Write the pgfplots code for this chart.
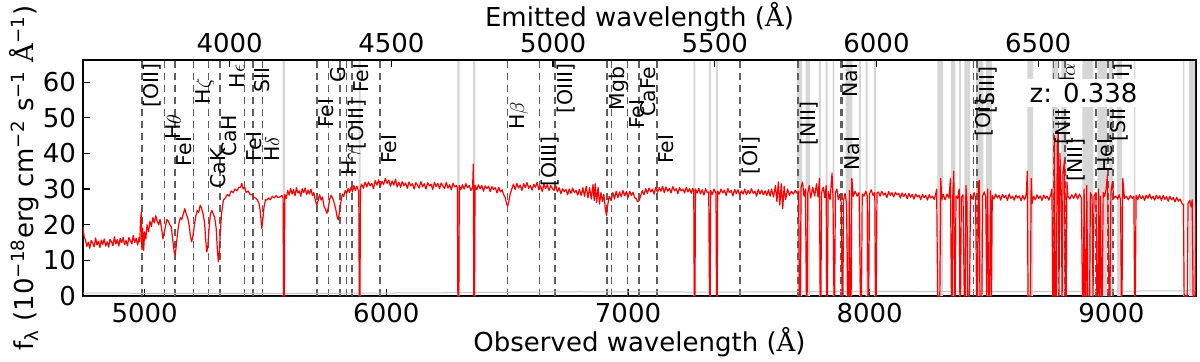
\documentclass[border=0pt]{standalone}
\usepackage{fontspec}
\setmainfont{DejaVu Sans}
\newfontfamily\serifA{DejaVu Serif}
\usepackage{pgfplots}
\pgfplotsset{compat=1.18}
\usepackage{pgfplotstable}
\definecolor{bandgray}{RGB}{214,214,214}
\definecolor{dashgray}{RGB}{95,95,95}
\newcommand{\bigf}{\fontsize{13bp}{15bp}\selectfont}
\newcommand{\lfont}{\fontsize{10.2bp}{11bp}\selectfont}
\newcommand{\AAng}{{\serifA Å}}

\pgfplotstableread{
x y
4745 19.5
4748 17.5
4751 16.2
4755 15.9
4761 13.9
4767 15.1
4773 13.4
4779 15.6
4785 14.9
4791 13.8
4797 16.3
4803 14.3
4809 15.4
4815 13.6
4821 15.7
4827 14.5
4833 16.0
4839 14.0
4845 15.2
4851 13.7
4857 15.9
4863 15.2
4869 14.1
4875 16.6
4881 14.6
4887 15.8
4893 14.0
4899 16.2
4905 14.9
4911 16.4
4917 14.4
4923 15.6
4929 14.1
4935 16.4
4941 15.6
4947 14.6
4953 17.0
4959 15.0
4965 16.2
4971 14.3
4977 16.4
4980 15.2
4983 21
4986 23.5
4989 13
4992 19
4996 12.8
5000 18
5005 16
5010 20
5016 18
5022 21
5028 19.5
5034 22
5040 20.5
5046 22.5
5052 21
5058 20
5064 21.5
5070 19
5076 16
5080 17.5
5086 19.5
5092 21.5
5098 21
5104 20
5110 19.5
5116 16
5122 12.5
5126 11.5
5130 13.5
5136 17.5
5142 20.5
5148 22
5154 21.5
5160 23
5166 24.5
5172 23
5178 22
5184 20
5190 16.5
5195 15.2
5200 17
5206 20
5212 22.5
5218 24
5224 23.5
5230 25.5
5236 24.5
5242 23
5248 20.5
5253 15.5
5257 12.4
5261 13.5
5266 18.5
5272 23
5278 24
5284 23
5290 22
5296 19
5301 13
5305 9.6
5308 11
5312 16.5
5318 23
5326 26.9
5334 27.5
5342 28.5
5350 28
5358 29.5
5366 29
5374 30
5382 29.5
5390 30.5
5397 30.5
5402 31.6
5408 30
5414 30.5
5420 29
5428 29.5
5436 28.5
5444 28.5
5450 27.8
5458 27.5
5466 27
5473 26
5478 24
5482 21
5485 19
5489 21.5
5494 25
5500 27
5505 26.9
5512 27.5
5520 27
5528 28
5536 27.5
5544 28.2
5552 27.6
5560 27.8
5568 28.2
5573 27.5
5575 0
5578 0
5580 28.5
5586 27.4
5592 29.6
5598 28.3
5604 30.2
5610 28.6
5616 29.8
5622 28.1
5628 30.4
5634 28.9
5640 29.5
5646 28.0
5652 30.1
5658 29.0
5664 30.3
5670 28.4
5676 29.7
5682 28.6
5688 30.0
5694 28.2
5700 29.0
5706 27.0
5712 25.5
5718 26.8
5724 28.4
5730 26.9
5736 27.8
5742 25.2
5748 24.4
5754 23.2
5760 24.8
5766 27.2
5772 28.3
5778 27.4
5784 26.2
5790 24.6
5796 22.4
5801 21.3
5806 23.5
5812 26.4
5818 28.6
5824 27.9
5830 29.6
5836 28.8
5842 30.2
5848 29.0
5854 30.6
5860 29.2
5866 31.0
5872 29.6
5878 30.8
5884 29.7
5886 29.5
5888 0
5891 0
5893 30.5
5898 31.4
5905 30.2
5912 31.9
5919 30.6
5926 32.0
5933 30.9
5940 31.6
5947 30.1
5954 32.4
5961 31.1
5968 32.6
5975 30.7
5982 32.2
5989 31.3
5996 33.0
6003 31.6
6010 32.5
6017 30.8
6024 32.3
6031 31.1
6038 32.8
6045 30.6
6052 31.9
6059 30.5
6066 32.1
6073 31.0
6080 31.7
6087 30.2
6094 32.0
6101 30.9
6108 31.5
6115 30.0
6122 31.8
6129 31.1
6136 30.3
6143 32.1
6150 30.6
6157 31.5
6164 30.0
6171 31.8
6178 30.9
6185 31.4
6192 29.9
6199 31.9
6206 30.7
6213 31.6
6220 30.1
6227 31.7
6234 30.8
6241 30.2
6248 31.9
6255 30.3
6262 31.2
6269 29.8
6276 31.6
6283 30.6
6290 31.0
6294 30.2
6296 0
6300 0
6302 31
6308 29.8
6315 31.2
6322 30.0
6329 31.5
6336 30.4
6343 31.0
6350 29.6
6357 30.6
6360 37
6362 0
6365 0
6367 31
6374 29.8
6381 31.2
6388 30.1
6395 31.0
6402 29.4
6409 30.9
6416 30.2
6423 30.8
6430 29.3
6437 30.7
6444 29.9
6451 30.4
6458 28.9
6465 30.5
6472 29.2
6479 29.8
6486 28.4
6492 27.6
6498 25.8
6502 25.2
6507 26.5
6512 28.5
6519 30.0
6526 31.4
6533 29.9
6540 31.6
6547 30.3
6554 31.1
6561 29.6
6568 31.5
6575 30.4
6582 31.8
6589 30.2
6596 31.0
6603 29.7
6610 31.3
6617 30.5
6624 31.9
6631 29.8
6638 30.9
6645 29.3
6652 31.4
6659 30.1
6666 31.2
6673 29.6
6680 31.0
6687 30.2
6694 29.6
6701 31.0
6708 29.2
6715 30.4
6722 28.7
6729 30.1
6736 29.3
6743 29.9
6750 28.4
6757 30.0
6764 28.8
6771 30.3
6778 29.0
6785 29.6
6792 28.3
6799 29.9
6806 28.2
6813 30.4
6820 27.9
6827 30.8
6834 27.5
6841 30.4
6848 27.2
6855 31.3
6860 26.8
6864 31.5
6870 26.2
6876 30.5
6882 25.8
6888 29
6894 26.5
6900 28.5
6906 24.5
6911 22.5
6916 25.5
6922 28
6930 26.8
6937 29.0
6944 27.2
6951 29.4
6958 27.6
6965 29.2
6972 27.8
6979 29.6
6986 28.1
6993 29.3
7000 27.6
7007 29.4
7014 28.2
7021 29.1
7028 27.5
7034 27.4
7040 26.4
7046 26.8
7052 28
7059 29.6
7066 28.4
7073 30.1
7080 28.8
7087 30.3
7094 29.2
7101 30.0
7108 28.6
7115 30.5
7122 29.1
7129 30.4
7136 29.4
7143 30.8
7150 29.0
7157 30.6
7164 29.4
7171 30.2
7178 28.9
7185 30.7
7192 29.5
7199 30.1
7206 28.7
7213 30.4
7220 29.5
7227 30.0
7234 28.9
7241 30.5
7248 29.2
7255 30.1
7262 28.8
7268 30.2
7272 29.5
7274 0
7277 0
7279 30
7286 28.9
7293 30.2
7300 28.6
7307 29.8
7314 28.3
7321 30.1
7328 29.0
7334 29.2
7337 0
7340 0
7342 29.6
7349 28.5
7356 30.0
7362 29.0
7364 29.2
7366 0
7369 0
7371 29.4
7378 28.6
7385 30.0
7392 28.9
7399 29.7
7406 28.2
7413 30.1
7420 29.0
7427 29.6
7434 28.1
7441 29.9
7448 28.7
7455 29.8
7462 28.3
7469 29.5
7476 28.6
7483 30.0
7490 28.4
7497 29.6
7504 28.7
7511 30.1
7518 28.8
7525 29.4
7532 28.0
7539 29.9
7546 28.6
7553 29.7
7560 28.4
7567 29.5
7574 28.2
7581 29.8
7588 28.0
7594 30
7602 27.8
7610 31
7616 26.5
7622 32
7628 25.5
7634 31.5
7640 24.5
7646 30.8
7652 27
7660 30
7668 28.2
7676 29.4
7684 28.6
7692 29.6
7700 28.8
7706 29.5
7709 0
7713 0
7716 30.5
7722 32
7728 28
7734 30
7738 0
7741 0
7744 29
7750 31
7756 27.5
7764 30.5
7772 28
7780 31.5
7786 27.8
7792 33
7795 0
7798 0
7801 29
7808 30.5
7814 27.6
7820 31
7822 0
7825 0
7828 29.4
7836 27
7844 34.5
7848 28
7852 0
7855 0
7858 29
7864 30
7870 27
7876 28.5
7882 26.2
7886 0
7889 0
7892 27
7898 28.8
7904 25.8
7909 0
7913 0
7916 29.6
7919 0
7923 0
7926 33
7932 28
7940 29.4
7948 28
7956 29
7962 0
7966 0
7969 28.6
7976 28
7984 29.4
7990 28
7993 0
7996 0
7999 28.6
8006 29.8
8014 28.2
8021 29
8024 0
8027 0
8030 28.8
8036 29.2
8043 28.0
8050 29.4
8057 28.3
8064 28.9
8071 27.6
8078 29.3
8085 28.2
8092 29.0
8099 27.8
8106 29.1
8113 28.4
8120 28.8
8127 27.5
8134 28.9
8141 27.9
8148 28.7
8155 27.3
8162 28.8
8169 27.7
8176 28.5
8183 27.2
8190 28.6
8197 27.8
8204 28.3
8211 27.0
8218 28.5
8225 27.6
8232 28.2
8239 26.9
8246 28.4
8253 27.5
8260 28.0
8267 27.1
8272 28.3
8277 30
8281 0
8286 0
8290 0
8294 33
8298 27
8304 28.5
8312 27
8320 28.6
8328 27.4
8334 33
8338 0
8341 0
8344 29
8348 35
8351 0
8354 0
8357 28
8364 27.4
8370 30
8373 0
8376 0
8379 27.6
8386 28.4
8391 0
8395 0
8398 31
8402 27
8406 0
8410 0
8413 0
8417 28.5
8424 27.2
8432 29
8438 27.6
8442 0
8446 0
8449 31
8453 32.5
8456 0
8460 0
8464 0
8467 28
8474 29.2
8480 27.8
8484 0
8488 30
8492 0
8496 0
8500 29.5
8504 0
8507 28.2
8514 27.2
8521 28.6
8528 27.5
8535 28.3
8542 26.9
8549 28.5
8556 27.6
8563 28.2
8570 26.8
8577 28.6
8584 27.4
8591 28.0
8598 26.9
8605 28.3
8612 27.5
8619 28.1
8626 26.7
8633 28.2
8640 27.0
8645 27.8
8648 29
8652 35
8655 0
8660 0
8665 0
8668 33
8672 26
8678 28
8685 27.0
8692 28.4
8699 27.3
8706 28.1
8713 26.8
8720 28.3
8727 27.4
8734 28.0
8741 26.9
8748 28.2
8754 30
8757 0
8761 0
8764 45
8768 0
8772 0
8776 42
8780 46
8783 0
8787 40
8792 30
8796 0
8800 35
8806 38
8809 0
8813 0
8816 32
8820 28
8828 27.2
8836 28.4
8844 27.4
8852 28.8
8860 27.2
8868 28.6
8876 27.4
8880 0
8884 0
8887 30
8891 0
8895 0
8898 31
8902 0
8906 0
8910 0
8913 29
8920 27.8
8924 0
8928 28
8936 29
8940 0
8944 0
8947 30
8951 0
8955 28
8958 0
8962 0
8966 29
8972 28
8978 30
8984 34
8990 0
8994 0
8998 29
9004 32
9010 27.4
9018 28
9026 27.2
9032 28.4
9038 27
9041 0
9044 0
9047 33
9054 27.4
9062 28
9070 27
9078 28.2
9086 27.4
9093 28
9096 0
9099 0
9102 28.2
9109 27.0
9116 28.4
9123 27.3
9130 28.1
9137 26.8
9144 28.3
9151 27.4
9158 28.6
9165 27.2
9172 28.0
9179 26.9
9186 28.3
9193 27.3
9200 28.1
9207 26.8
9214 28.2
9221 27.1
9228 27.9
9235 26.6
9242 28.0
9249 27.0
9256 27.6
9263 26.4
9270 27.7
9277 26.6
9284 27.2
9291 26.1
9298 25.5
9301 0
9305 0
9310 0
9314 0
9317 26
9324 26.8
9330 25
9334 27
9338 0
9342 0
9346 0
9350 26
}\spec

\pgfplotstableread{
x y
4745 0
5571 66.2
5581 0
5885 66.2
5894 0
6294 66.2
6303 0
6359 66.2
6368 0
7270 66.2
7279 0
7335 66.2
7343 0
7364 66.2
7372 0
7700 66.2
7720 0
7735 66.2
7752 0
7790 66.2
7798 0
7818 66.2
7826 0
7846 66.2
7854 0
7900 66.2
7928 0
7955 66.2
7963 0
7983 66.2
7991 0
8017 66.2
8025 0
8280 66.2
8304 0
8336 66.2
8354 0
8370 66.2
8377 0
8392 66.2
8415 0
8440 66.2
8470 0
8481 66.2
8505 0
8652 66.2
8676 0
8755 66.2
8779 0
8793 66.2
8815 0
8880 66.2
8925 0
8942 66.2
8982 0
8991 66.2
9006 0
9024 66.2
9043 0
9093 66.2
9099 0
9296 66.2
9302 0
9322 66.2
9346 0
9350 0
}\bands

\newcommand{\lab}[3]{\node[rotate=90, anchor=north east, inner sep=0.6pt, font=\lfont] at (axis cs:#1,#2) {#3};}

\begin{document}
\begin{tikzpicture}
\begin{axis}[
  name=main,
  scale only axis, width=556.5bp, height=118bp,
  xmin=4745, xmax=9350, ymin=0, ymax=66.2,
  xtick={5000,6000,7000,8000,9000},
  ytick={0,10,20,30,40,50,60},
  xtick pos=left, ytick pos=both,
  tick align=inside, major tick length=3.5bp,
  scaled x ticks=false,
  /pgf/number format/1000 sep={},
  /pgf/number format/assume math mode=true,
  tick label style={font=\bigf},
  label style={font=\bigf},
  axis line style={line width=0.9bp},
  tick style={line width=0.6bp, black},
  xlabel={Observed wavelength (\AAng)},
  xlabel style={at={(axis description cs:0.5,-0.195)}, anchor=center},
  ylabel={f\textsubscript{λ} (10\textsuperscript{−18}erg cm\textsuperscript{−2} s\textsuperscript{−1} \AAng\textsuperscript{−1})},
  ylabel style={at={(axis description cs:-0.053,0.5)}, anchor=center},
]
\addplot[const plot, fill=bandgray, draw=none] table {\bands} \closedcycle;
\addplot[ycomb, color=dashgray, line width=0.8bp, dash pattern=on 3.5bp off 2.5bp] coordinates {
(4988,66.2) (5082,66.2) (5125,66.2) (5203,66.2) (5264,66.2) (5311,66.2) (5414,66.2) (5448,66.2) (5488,66.2)
(5712,66.2) (5760,66.2) (5808,66.2) (5836,66.2) (5857,66.2) (5974,66.2) (6502,66.2) (6633,66.2) (6698,66.2)
(6914,66.2) (6932,66.2) (6998,66.2) (7046,66.2) (7121,66.2) (7463,66.2) (7704,66.2) (7880,66.2) (7888,66.2)
(8429,66.2) (8445,66.2) (8761,66.2) (8781,66.2) (8808,66.2) (8935,66.2) (8986,66.2) (9006,66.2)};
\addplot[color=gray!45, line width=0.5bp] coordinates {(4745,0.8) (5600,0.7) (6200,0.9) (6800,1.2) (7400,1.1) (8000,1.3) (8600,1.2) (9350,1.5)};
\addplot[color=red, line width=0.6bp, line join=round] table {\spec};
\lab{4988}{65.6}{[OII]}
\lab{5082}{51.3}{H$\theta$}
\lab{5125}{45.1}{FeI}
\lab{5203}{61.4}{H$\zeta$}
\lab{5264}{41.8}{CaK}
\lab{5311}{51.3}{CaH}
\lab{5345}{65.3}{H$\epsilon$}
\lab{5414}{46.5}{FeI}
\lab{5448}{64.5}{SII}
\lab{5488}{45.1}{H$\delta$}
\lab{5712}{55.8}{FeI}
\lab{5760}{64.8}{G}
\lab{5808}{41.8}{H$\gamma$}
\lab{5836}{55.5}{[OIII]}
\lab{5857}{65.6}{FeI}
\lab{5974}{45.7}{FeI}
\lab{6502}{54.9}{H$\beta$}
\lab{6633}{45.1}{[OIII]}
\lab{6698}{65.6}{[OIII]}
\lab{6914}{64.8}{Mgb}
\lab{6998}{55.5}{FeI}
\lab{7046}{64.8}{CaFe}
\lab{7121}{45.7}{FeI}
\lab{7463}{45.1}{[OI]}
\lab{7704}{54.9}{[NII]}
\lab{7880}{65.6}{NaI}
\lab{7888}{45.1}{NaI}
\lab{8429}{55.8}{[OI]}
\lab{8445}{64.8}{[SIII]}
\lab{8761}{55}{[NII]}
\lab{8781}{65.6}{H$\alpha$}
\lab{8808}{44.6}{[NII]}
\lab{8935}{44.6}{HeI}
\lab{8986}{55.2}{[SII]}
\lab{9006}{65.6}{[SII]}
\node[fill=white, inner sep=2bp, font=\bigf] at (axis cs:8885,56.9) {z: 0.338};
\end{axis}
\begin{axis}[
  scale only axis, width=556.5bp, height=118bp,
  xmin=4745, xmax=9350, ymin=0, ymax=66.2,
  axis x line*=top, hide y axis,
  xtick={5352,6021,6690,7359,8028,8697},
  xticklabels={4000,4500,5000,5500,6000,6500},
  tick align=inside, major tick length=3.5bp,
  tick label style={font=\bigf},
  label style={font=\bigf},
  axis line style={line width=0.9bp},
  tick style={line width=0.6bp, black},
  xlabel={Emitted wavelength (\AAng)},
  xlabel style={at={(axis description cs:0.5,1.182)}, anchor=center},
]
\end{axis}
\pgfresetboundingbox
\path[use as bounding box] ([xshift=-41.5bp,yshift=-32.5bp]main.south west) rectangle ([xshift=2bp,yshift=30bp]main.north east);
\end{tikzpicture}
\end{document}
